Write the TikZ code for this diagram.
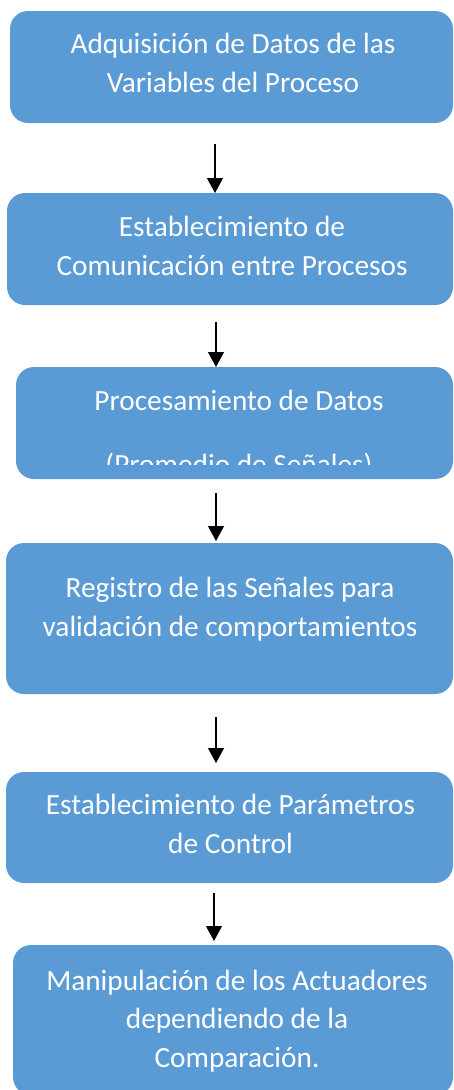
\documentclass[tikz,border=0pt]{standalone}
\usepackage{fontspec}
\setmainfont{Carlito}
\usetikzlibrary{arrows.meta}
\usetikzlibrary{calc}
\usetikzlibrary{positioning}
\definecolor{cajaazul}{RGB}{91,155,213}

\tikzset{
  caja/.style={fill=cajaazul, rounded corners=18pt, inner sep=0pt, outer sep=0pt, anchor=north west},
  texto/.style={text=white, align=center, font=\fontsize{29.3}{38.5}\selectfont, anchor=base, inner sep=0pt},
  flecha/.style={-{Triangle[width=16pt,length=15pt]}, line width=1.2pt}
}

\begin{document}
\begin{tikzpicture}[x=1pt,y=-1pt]
\useasboundingbox (0,0) rectangle (453,1090);

% Las cajas
\node[caja, minimum width=443pt, minimum height=112pt] (b1) at (10,11) {};
\node[caja, minimum width=446pt, minimum height=112pt] (b2) at (7,193) {};
\node[caja, minimum width=437pt, minimum height=112pt] (b3) at (16,367) {};
\node[caja, minimum width=447pt, minimum height=151pt] (b4) at (6,543) {};
\node[caja, minimum width=447pt, minimum height=111pt] (b5) at (6,772) {};
\node[caja, minimum width=440pt, minimum height=150pt] (b6) at (13,945) {};

% Los textos (anclados en la linea de base de la ultima linea)
\node[texto] (t1) at (233,92) {Adquisición de Datos de las\\Variables del Proceso};
\node[texto] (t2) at (232,275) {Establecimiento de\\Comunicación entre Procesos};
\begin{scope}
  \clip (0,360) rectangle (453,464.5);
  \node[texto] (t3) at (239,474) {Procesamiento de Datos\\[25pt](Promedio de Señales)};
\end{scope}
\node[texto] (t4) at (230,636) {Registro de las Señales para\\validación de comportamientos};
\node[texto] (t5) at (230.5,853) {Establecimiento de Parámetros\\de Control};
\node[texto] (t6) at (237,1067) {Manipulación de los Actuadores\\dependiendo de la\\Comparación.};

% Flechas
\coordinate (a1) at (215,144);
\coordinate (a2) at (216,322);
\coordinate (a3) at (216,493);
\coordinate (a4) at (216,717);
\coordinate (a5) at (214,893);
\draw[flecha] (a1) -- (a1 |- b2.north);
\draw[flecha] (a2) -- (a2 |- b3.north);
\draw[flecha, shorten >=2pt] (a3) -- (a3 |- b4.north);
\draw[flecha, shorten >=9pt] (a4) -- (a4 |- b5.north);
\draw[flecha, shorten >=4pt] (a5) -- (a5 |- b6.north);
\end{tikzpicture}
\end{document}
